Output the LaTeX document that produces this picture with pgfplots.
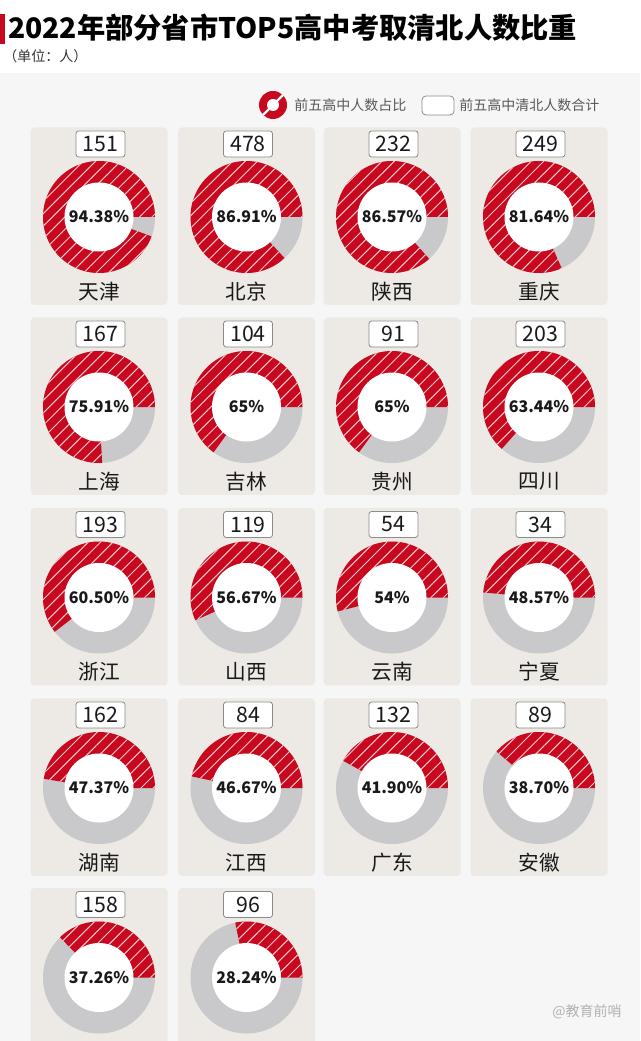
\documentclass[border=0pt]{standalone}
\usepackage{fontspec}
\setmainfont{Noto Sans CJK SC}
\usepackage{pgfplots}
\pgfplotsset{compat=1.18}
\usetikzlibrary{patterns.meta}

\definecolor{cred}{RGB}{200,8,30}
\definecolor{ringgray}{RGB}{201,201,203}
\definecolor{cardbg}{RGB}{237,234,229}
\definecolor{panel}{RGB}{246,246,246}
\definecolor{hatch}{RGB}{250,200,206}
\definecolor{boxborder}{RGB}{140,140,140}
\definecolor{txt}{RGB}{25,25,25}

% donut drawn through the axis: centre (cx,cy) in px, share in percent
\newcommand\donut[3]{%
  \addplot[draw=none, fill=ringgray, domain=0:360, samples=121]
    ({#1+56*cos(x)},{#2-56*sin(x)});
  \addplot[draw=none, fill=cred,
    postaction={pattern={Lines[angle=45,distance=6.6pt,line width=0.75pt]}, pattern color=hatch},
    domain=0:3.6*#3, samples=100]
    ({#1+56*cos(x)},{#2-56*sin(x)}) -- (axis cs:#1,#2) -- cycle;
  \addplot[draw=none, fill=white, domain=0:360, samples=121]
    ({#1+34.5*cos(x)},{#2-34.5*sin(x)});
}
% card background (cx, top)
\newcommand\cardbg[2]{%
  \fill[cardbg, rounded corners=3pt] (#1-68.5,#2) rectangle (#1+68.5,#2+177.5);
}
% card texts (cx, top, total, pct label, name)
\newcommand\cardtext[5]{%
  \node[draw=boxborder, line width=0.6pt, fill=white, rounded corners=2pt,
        minimum width=36.75pt, minimum height=19.5pt, inner sep=0pt,
        font=\fontsize{16pt}{16pt}\selectfont, text=txt] at (#1+1.5,#2+16.5) {#3};
  \node[inner sep=0pt, font=\fontsize{12pt}{12pt}\selectfont\bfseries, text=txt]
        at (#1,#2+89.5) {#4};
  \node[inner sep=0pt, font=\fontsize{15.5pt}{15.5pt}\selectfont, text=txt]
        at (#1,#2+164) {#5};
}

\begin{document}
\begin{tikzpicture}
\begin{scope}[x=0.75pt, y=-0.75pt, shift={(0,780.75pt)}]
  \fill[white] (0,0) rectangle (640,1041);
  \fill[panel] (0,73) rectangle (640,1041);
  % title
  \fill[cred] (0,14) rectangle (5,44);
  \node[anchor=west, inner sep=0pt, font=\fontsize{21.2pt}{21.2pt}\selectfont\bfseries, text=black]
     at (8,28) {2022年部分省市TOP5高中考取清北人数比重};
  \node[anchor=west, inner sep=0pt, font=\fontsize{10.5pt}{10.5pt}\selectfont, text=black!80]
     at (3,56) {（单位：人）};
  % legend
  \fill[cred] (273,105) circle[radius=14];
  \fill[white] (273,105) circle[radius=6];
  \draw[white, line width=1.8pt] (263,115) -- (283,95);
  \node[anchor=west, inner sep=0pt, font=\fontsize{10.5pt}{10.5pt}\selectfont, text=black!65]
     at (294,105) {前五高中人数占比};
  \draw[boxborder, fill=white, line width=0.6pt, rounded corners=3pt] (422,96) rectangle (454,115);
  \node[anchor=west, inner sep=0pt, font=\fontsize{10.5pt}{10.5pt}\selectfont, text=black!65]
     at (459,105) {前五高中清北人数合计};
  % cards
  \cardbg{99}{127.5}\cardbg{246.5}{127.5}\cardbg{392}{127.5}\cardbg{539}{127.5}
  \cardbg{99}{317.5}\cardbg{246.5}{317.5}\cardbg{392}{317.5}\cardbg{539}{317.5}
  \cardbg{99}{508}\cardbg{246.5}{508}\cardbg{392}{508}\cardbg{539}{508}
  \cardbg{99}{698.5}\cardbg{246.5}{698.5}\cardbg{392}{698.5}\cardbg{539}{698.5}
  \cardbg{99}{888}\cardbg{246.5}{888}
\end{scope}

\begin{axis}[at={(0,0)}, anchor=south west, scale only axis,
  width=480pt, height=780.75pt, xmin=0, xmax=640, ymin=0, ymax=1041,
  y dir=reverse, hide axis, enlargelimits=false, clip=false]
  \donut{99}{217}{94.38}
  \donut{246.5}{217}{86.91}
  \donut{392}{217}{86.57}
  \donut{539}{217}{81.64}
  \donut{99}{407}{75.91}
  \donut{246.5}{407}{65}
  \donut{392}{407}{65}
  \donut{539}{407}{63.44}
  \donut{99}{597.5}{60.50}
  \donut{246.5}{597.5}{56.67}
  \donut{392}{597.5}{54}
  \donut{539}{597.5}{48.57}
  \donut{99}{788}{47.37}
  \donut{246.5}{788}{46.67}
  \donut{392}{788}{41.90}
  \donut{539}{788}{38.70}
  \donut{99}{977.5}{37.26}
  \donut{246.5}{977.5}{28.24}
\end{axis}

\begin{scope}[x=0.75pt, y=-0.75pt, shift={(0,780.75pt)}]
  \cardtext{99}{127.5}{151}{94.38\%}{天津}
  \cardtext{246.5}{127.5}{478}{86.91\%}{北京}
  \cardtext{392}{127.5}{232}{86.57\%}{陕西}
  \cardtext{539}{127.5}{249}{81.64\%}{重庆}
  \cardtext{99}{317.5}{167}{75.91\%}{上海}
  \cardtext{246.5}{317.5}{104}{65\%}{吉林}
  \cardtext{392}{317.5}{91}{65\%}{贵州}
  \cardtext{539}{317.5}{203}{63.44\%}{四川}
  \cardtext{99}{508}{193}{60.50\%}{浙江}
  \cardtext{246.5}{508}{119}{56.67\%}{山西}
  \cardtext{392}{508}{54}{54\%}{云南}
  \cardtext{539}{508}{34}{48.57\%}{宁夏}
  \cardtext{99}{698.5}{162}{47.37\%}{湖南}
  \cardtext{246.5}{698.5}{84}{46.67\%}{江西}
  \cardtext{392}{698.5}{132}{41.90\%}{广东}
  \cardtext{539}{698.5}{89}{38.70\%}{安徽}
  \cardtext{99}{888}{158}{37.26\%}{}
  \cardtext{246.5}{888}{96}{28.24\%}{}
  \node[anchor=east, inner sep=0pt, font=\fontsize{10.5pt}{10.5pt}\selectfont, text=black!30]
     at (622,1012) {@教育前哨};
  \pgfresetboundingbox
  \path[use as bounding box] (0,0) rectangle (640,1041);
\end{scope}
\end{tikzpicture}
\end{document}
